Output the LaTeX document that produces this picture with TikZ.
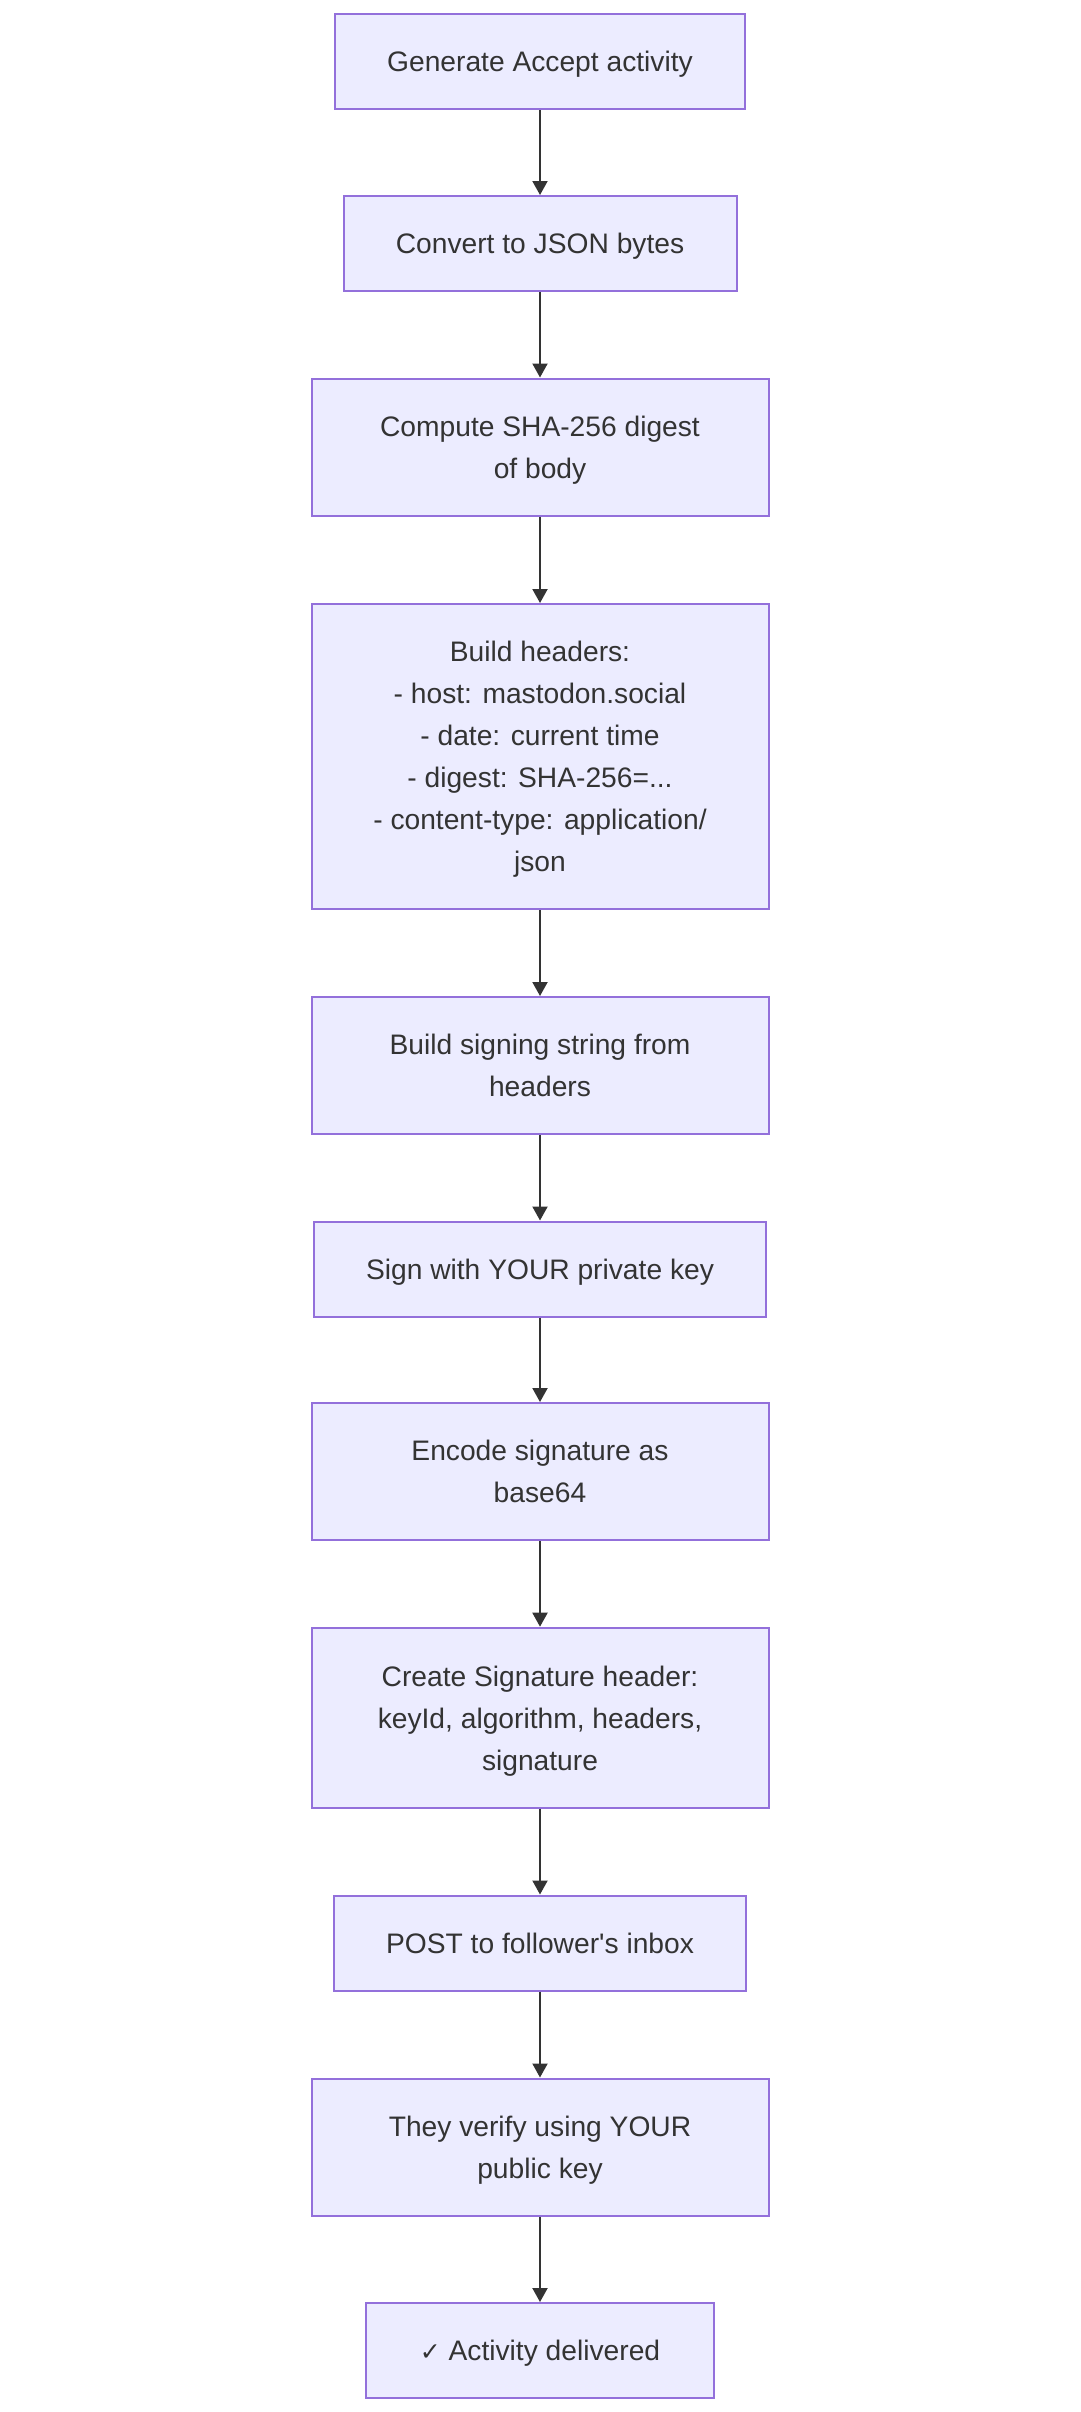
\documentclass[tikz,border=0pt]{standalone}
\usepackage{fontspec}
\setmainfont{Liberation Sans}
\newfontfamily\symfont{DejaVu Sans}
\usetikzlibrary{arrows.meta}
\definecolor{boxfill}{HTML}{ECECFF}
\definecolor{boxline}{HTML}{9370DB}
\definecolor{ink}{HTML}{333333}
\newcommand{\tb}[1]{\raisebox{-2pt}[\height][\depth]{\begin{tabular}{@{}c@{}}#1\end{tabular}}}
\begin{document}
\begin{tikzpicture}[x=1pt,y=-1pt,
  stepbox/.style={draw=boxline, fill=boxfill, line width=2pt, rectangle,
    align=center, text=ink, inner sep=0pt,
    font=\fontsize{28.2pt}{42pt}\selectfont},
  flow/.style={draw=ink, line width=2pt, -{Triangle[length=14pt,width=15pt]}}
]
\useasboundingbox (0,0) rectangle (1080,2412);
\fill[white] (0,0) rectangle (1080,2412);
\node[stepbox, minimum width=410pt, minimum height=95pt] (n1) at (540,61.5) {\tb{Generate Accept activity}};
\node[stepbox, minimum width=393pt, minimum height=95pt] (n2) at (540,243.5) {\tb{Convert to JSON bytes}};
\node[stepbox, minimum width=457pt, minimum height=137pt] (n3) at (540,447) {\tb{Compute SHA-256 digest\\of body}};
\node[stepbox, minimum width=457pt, minimum height=305pt] (n4) at (540,756.5) {\tb{Build headers:\\- host: mastodon.social\\- date: current time\\- digest: SHA-256=...\\- content-type: application/\\json}};
\node[stepbox, minimum width=457pt, minimum height=137pt] (n5) at (540,1065.5) {\tb{Build signing string from\\headers}};
\node[stepbox, minimum width=452pt, minimum height=95pt] (n6) at (540,1269) {\tb{Sign with YOUR private key}};
\node[stepbox, minimum width=457pt, minimum height=137pt] (n7) at (540,1471.5) {\tb{Encode signature as\\base64}};
\node[stepbox, minimum width=457pt, minimum height=180pt] (n8) at (540,1717.7) {\tb{Create Signature header:\\keyId, algorithm, headers,\\signature}};
\node[stepbox, minimum width=412pt, minimum height=95pt] (n9) at (540,1943) {\tb{POST to follower\textquotesingle s inbox}};
\node[stepbox, minimum width=457pt, minimum height=137pt] (n10) at (540,2147) {\tb{They verify using YOUR\\public key}};
\node[stepbox, minimum width=348pt, minimum height=95pt] (n11) at (540,2350.5) {\tb{{\symfont\fontsize{25pt}{42pt}\selectfont ✓} Activity delivered}};
\foreach \a/\b in {n1/n2,n2/n3,n3/n4,n4/n5,n5/n6,n6/n7,n7/n8,n8/n9,n9/n10,n10/n11}
  \draw[flow] (\a.south) -- (\b.north);
\end{tikzpicture}
\end{document}
